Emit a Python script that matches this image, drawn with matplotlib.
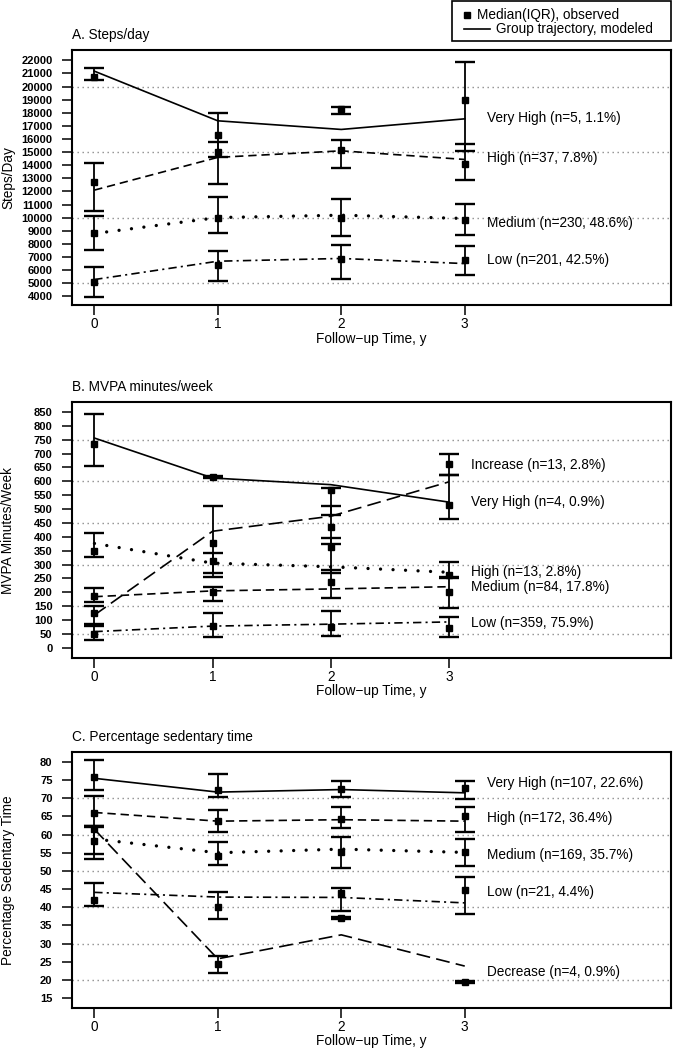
import numpy as np
import matplotlib
matplotlib.use("Agg")
from matplotlib import pyplot as plt
from matplotlib.lines import Line2D
from matplotlib.patches import Rectangle

plt.rcParams['font.family'] = ['Liberation Sans', 'DejaVu Sans']
plt.rcParams['lines.scale_dashes'] = False

years = [0, 1, 2, 3]

# ---- A. Steps/day
a_groups = ['Very High', 'High', 'Medium', 'Low']
a_labels = ['Very High (n=5, 1.1%)', 'High (n=37, 7.8%)',
            'Medium (n=230, 48.6%)', 'Low (n=201, 42.5%)']
a_traj = [[21180, 17390, 16730, 17540],
          [12100, 14600, 15100, 14440],
          [8790, 10010, 10190, 9940],
          [5280, 6680, 6890, 6500]]
a_med = [[20750, 16300, 18300, 18970],
         [12690, 15000, 15200, 14100],
         [8840, 10000, 10000, 9850],
         [5100, 6370, 6850, 6800]]
a_q1 = [[20500, 14600, 17900, 15100],
        [10520, 12600, 13800, 12900],
        [7570, 8840, 8590, 8660],
        [3930, 5150, 5330, 5610]]
a_q3 = [[21440, 18000, 18460, 21870],
        [14140, 15760, 15950, 15600],
        [10120, 11540, 11390, 11030],
        [6250, 7440, 7950, 7820]]
a_ticks = list(range(4000, 22001, 1000))
a_grid = [5000, 10000, 15000, 20000]

# ---- B. MVPA minutes/week
b_groups = ['Increase', 'Very High', 'High', 'Medium', 'Low']
b_labels = ['Increase (n=13, 2.8%)', 'Very High (n=4, 0.9%)',
            'High (n=13, 2.8%)', 'Medium (n=84, 17.8%)', 'Low (n=359, 75.9%)']
b_traj = [[118, 420, 474, 598],
          [756, 612, 588, 525],
          [376, 305, 292, 272],
          [184, 205, 212, 220],
          [58, 78, 85, 93]]
b_med = [[124, 378, 437, 662],
         [735, 617, 568, 514],
         [349, 312, 362, 262],
         [187, 202, 237, 200],
         [50, 78, 75, 72]]
b_q1 = [[85, 256, 373, 623],
        [655, 612, 478, 463],
        [326, 270, 270, 254],
        [166, 169, 178, 145],
        [28, 40, 42, 40]]
b_q3 = [[150, 510, 510, 697],
        [843, 620, 576, 623],
        [412, 340, 396, 310],
        [214, 220, 280, 250],
        [78, 127, 132, 110]]
b_ticks = list(range(0, 851, 50))
b_grid = [50, 150, 300, 450, 600, 750]

# ---- C. Percentage sedentary time
c_groups = ['Very High', 'High', 'Medium', 'Low', 'Decrease']
c_labels = ['Very High (n=107, 22.6%)', 'High (n=172, 36.4%)',
            'Medium (n=169, 35.7%)', 'Low (n=21, 4.4%)', 'Decrease (n=4, 0.9%)']
c_traj = [[75.5, 71.7, 72.4, 71.5],
          [66.1, 63.7, 64.1, 63.7],
          [58.8, 55.0, 56.0, 55.1],
          [44.1, 42.8, 42.7, 41.2],
          [61.5, 25.8, 32.4, 23.8]]
c_med = [[75.9, 72.3, 72.5, 72.7],
         [66.0, 63.8, 64.3, 65.0],
         [58.1, 54.2, 55.1, 55.1],
         [42.0, 40.2, 43.9, 44.8],
         [61.5, 24.4, 37.0, 19.4]]
c_q1 = [[72.3, 70.3, 70.3, 69.8],
        [62.5, 60.8, 61.7, 60.6],
        [53.2, 51.5, 50.7, 51.4],
        [40.4, 36.8, 39.1, 38.2],
        [54.6, 21.9, 36.8, 19.2]]
c_q3 = [[80.5, 76.6, 74.7, 74.8],
        [70.7, 66.8, 67.5, 67.5],
        [62.0, 58.0, 59.3, 58.8],
        [46.7, 44.2, 45.2, 48.4],
        [62.3, 26.7, 37.3, 19.7]]
c_ticks = list(range(15, 81, 5))
c_grid = [20, 30, 40, 50, 60, 70]

# label heights (layout, placed by hand next to the end of each trajectory)
a_label_y = [17600, 14520, 9600, 6810]
b_label_y = [658, 526, 274, 220, 90]
c_label_y = [74.2, 64.5, 54.4, 44.3, 22.1]

legend_text = ['Median(IQR), observed', 'Group trajectory, modeled']

FS = 9.8

STYLES = {
    'Very High': dict(ls='-', lw=1.2),
    'High': dict(ls=(0, (6, 3.5)), lw=1.2),
    'Medium': dict(ls=(0, (0.01, 9)), lw=2.4, dash_capstyle='round'),
    'Low': dict(ls=(0, (6, 3, 1.5, 3)), lw=1.2),
    'Increase': dict(ls=(0, (10, 4.5)), lw=1.2),
    'Decrease': dict(ls=(0, (10, 4.5)), lw=1.2),
}
# in panel B the High group is dotted and Medium is dashed
B_STYLES = dict(STYLES, High=STYLES['Medium'], Medium=STYLES['High'])


def draw_panel(ax, title, ylabel, groups, labels, traj, med, q1, q3,
               label_y, ticks, grid, ylim, xlim, styles):
    for g in grid:
        ax.axhline(g, color='#8c8c8c', lw=1.0, ls=(0, (1, 2.6)), zorder=0)
    for i, grp in enumerate(groups):
        ax.plot(years, traj[i], color='black', zorder=2, **styles[grp])
        m = np.array(med[i])
        lo = m - np.array(q1[i])
        hi = np.array(q3[i]) - m
        ax.errorbar(years, m, yerr=[lo, hi], fmt='s', ms=4, color='black',
                    ecolor='black', elinewidth=1.3, capsize=7, capthick=1.7,
                    zorder=3)
        ax.annotate(labels[i], xy=(3, label_y[i]), xytext=(16, 0),
                    textcoords='offset points', va='center', ha='left',
                    fontsize=FS)
    ax.set_xlim(*xlim)
    ax.set_ylim(*ylim)
    ax.set_xticks(years)
    ax.set_yticks(ticks)
    for s in ax.spines.values():
        s.set_linewidth(1.5)
    ax.tick_params(axis='both', direction='out', length=7, width=1.1)
    ax.tick_params(axis='y', pad=7, labelsize=8)
    ax.tick_params(axis='x', pad=1.5, labelsize=FS)
    for t in ax.get_yticklabels():
        t.set_fontweight('bold')
    ax.set_title(title, loc='left', fontsize=FS, pad=8)
    ax.set_xlabel('Follow\u2212up Time, y', fontsize=FS, labelpad=0.5)
    ax.set_ylabel(ylabel, fontsize=FS)
    ax.yaxis.set_label_coords(-0.095, 0.5)


fig = plt.figure(figsize=(6.73, 10.5), dpi=100)
W, H = 673.0, 1050.0
left, right = 72 / W, 671 / W
ax_a = fig.add_axes([left, 1 - 305 / H, right - left, 255 / H])
ax_b = fig.add_axes([left, 1 - 658 / H, right - left, 256 / H])
ax_c = fig.add_axes([left, 1 - 1008 / H, right - left, 256 / H])

draw_panel(ax_a, 'A. Steps/day', 'Steps/Day', a_groups, a_labels, a_traj,
           a_med, a_q1, a_q3, a_label_y, a_ticks, a_grid,
           (3340, 22790), (-0.18, 4.67), STYLES)
draw_panel(ax_b, 'B. MVPA minutes/week', 'MVPA Minutes/Week', b_groups,
           b_labels, b_traj, b_med, b_q1, b_q3, b_label_y, b_ticks, b_grid,
           (-37, 886), (-0.19, 4.88), B_STYLES)
draw_panel(ax_c, 'C. Percentage sedentary time', 'Percentage Sedentary Time',
           c_groups, c_labels, c_traj, c_med, c_q1, c_q3, c_label_y, c_ticks,
           c_grid, (12.26, 82.74), (-0.18, 4.67), STYLES)

# legend box drawn by hand at the top right of the figure (pixel layout)
def px(x, y):
    return x / W, 1 - y / H

x0, y0 = px(452, 41)
x1, y1 = px(671, 1)
fig.patches.append(Rectangle((x0, y0), x1 - x0, y1 - y0, transform=fig.transFigure,
                             fill=False, edgecolor='black', linewidth=1.2))
mx, my = px(467, 15)
fig.add_artist(Line2D([mx], [my], marker='s', ms=4, color='black', ls='none',
                      transform=fig.transFigure))
fig.text(*px(477, 15), legend_text[0], fontsize=FS, va='center', ha='left')
lx0, ly = px(464, 29)
lx1, _ = px(490, 29)
fig.add_artist(Line2D([lx0, lx1], [ly, ly], color='black', lw=1.2,
                      transform=fig.transFigure))
fig.text(*px(496, 29), legend_text[1], fontsize=FS, va='center', ha='left')

fig.savefig('out.png', dpi=100)
